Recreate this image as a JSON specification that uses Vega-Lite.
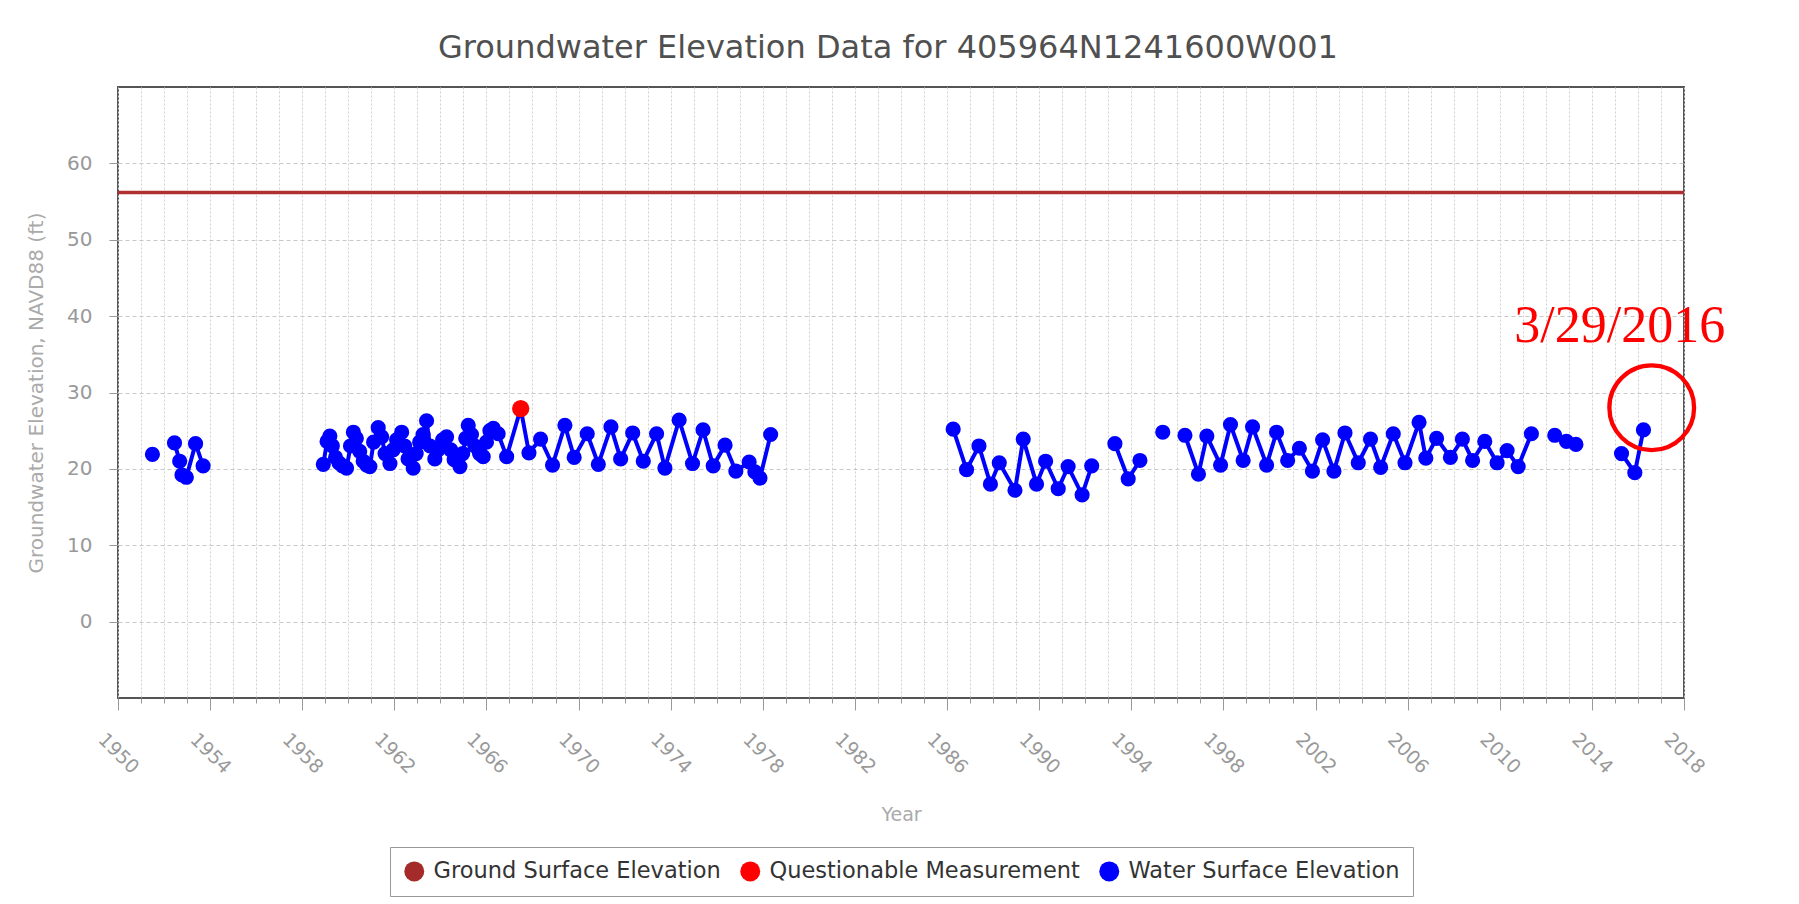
{
  "$schema": "https://vega.github.io/schema/vega-lite/v6.json",
  "autosize": {"type": "none"},
  "width": 1566,
  "height": 611,
  "padding": {"left": 118, "top": 87, "right": 115, "bottom": 206},
  "background": "white",
  "config": {
    "font": "DejaVu Sans",
    "view": {"stroke": "#555555", "strokeWidth": 2, "fill": "white"}
  },
  "title": {
    "text": "Groundwater Elevation Data for 405964N1241600W001",
    "fontSize": 32,
    "fontWeight": "normal",
    "color": "#505050",
    "anchor": "middle",
    "offset": 22,
    "dx": -13
  },
  "datasets": {
    "obs": [
      {"date": "1951-07-01", "elev": 21.9, "seg": 1, "status": "Water Surface Elevation"},
      {"date": "1952-06-15", "elev": 23.4, "seg": 2, "status": "Water Surface Elevation"},
      {"date": "1952-09-05", "elev": 21.0, "seg": 2, "status": "Water Surface Elevation"},
      {"date": "1952-10-12", "elev": 19.2, "seg": 2, "status": "Water Surface Elevation"},
      {"date": "1952-12-20", "elev": 18.9, "seg": 2, "status": "Water Surface Elevation"},
      {"date": "1953-05-15", "elev": 23.3, "seg": 2, "status": "Water Surface Elevation"},
      {"date": "1953-09-12", "elev": 20.4, "seg": 2, "status": "Water Surface Elevation"},
      {"date": "1958-12-01", "elev": 20.6, "seg": 3, "status": "Water Surface Elevation"},
      {"date": "1959-01-30", "elev": 23.6, "seg": 3, "status": "Water Surface Elevation"},
      {"date": "1959-03-15", "elev": 24.3, "seg": 3, "status": "Water Surface Elevation"},
      {"date": "1959-04-23", "elev": 23.0, "seg": 3, "status": "Water Surface Elevation"},
      {"date": "1959-06-13", "elev": 21.5, "seg": 3, "status": "Water Surface Elevation"},
      {"date": "1959-08-07", "elev": 20.8, "seg": 3, "status": "Water Surface Elevation"},
      {"date": "1959-10-01", "elev": 20.4, "seg": 3, "status": "Water Surface Elevation"},
      {"date": "1959-12-05", "elev": 20.1, "seg": 3, "status": "Water Surface Elevation"},
      {"date": "1960-02-06", "elev": 23.0, "seg": 3, "status": "Water Surface Elevation"},
      {"date": "1960-03-22", "elev": 24.8, "seg": 3, "status": "Water Surface Elevation"},
      {"date": "1960-05-08", "elev": 24.0, "seg": 3, "status": "Water Surface Elevation"},
      {"date": "1960-07-01", "elev": 22.3, "seg": 3, "status": "Water Surface Elevation"},
      {"date": "1960-08-25", "elev": 21.0, "seg": 3, "status": "Water Surface Elevation"},
      {"date": "1960-10-20", "elev": 20.5, "seg": 3, "status": "Water Surface Elevation"},
      {"date": "1960-12-09", "elev": 20.3, "seg": 3, "status": "Water Surface Elevation"},
      {"date": "1961-02-06", "elev": 23.5, "seg": 3, "status": "Water Surface Elevation"},
      {"date": "1961-04-20", "elev": 25.4, "seg": 3, "status": "Water Surface Elevation"},
      {"date": "1961-06-13", "elev": 24.2, "seg": 3, "status": "Water Surface Elevation"},
      {"date": "1961-08-07", "elev": 22.0, "seg": 3, "status": "Water Surface Elevation"},
      {"date": "1961-10-23", "elev": 20.7, "seg": 3, "status": "Water Surface Elevation"},
      {"date": "1961-12-13", "elev": 22.5, "seg": 3, "status": "Water Surface Elevation"},
      {"date": "1962-02-06", "elev": 23.8, "seg": 3, "status": "Water Surface Elevation"},
      {"date": "1962-04-27", "elev": 24.8, "seg": 3, "status": "Water Surface Elevation"},
      {"date": "1962-06-13", "elev": 23.0, "seg": 3, "status": "Water Surface Elevation"},
      {"date": "1962-08-07", "elev": 21.3, "seg": 3, "status": "Water Surface Elevation"},
      {"date": "1962-10-27", "elev": 20.1, "seg": 3, "status": "Water Surface Elevation"},
      {"date": "1962-12-13", "elev": 22.0, "seg": 3, "status": "Water Surface Elevation"},
      {"date": "1963-02-06", "elev": 23.5, "seg": 3, "status": "Water Surface Elevation"},
      {"date": "1963-04-01", "elev": 24.5, "seg": 3, "status": "Water Surface Elevation"},
      {"date": "1963-05-27", "elev": 26.3, "seg": 3, "status": "Water Surface Elevation"},
      {"date": "1963-07-20", "elev": 23.0, "seg": 3, "status": "Water Surface Elevation"},
      {"date": "1963-10-05", "elev": 21.3, "seg": 3, "status": "Water Surface Elevation"},
      {"date": "1963-11-24", "elev": 22.5, "seg": 3, "status": "Water Surface Elevation"},
      {"date": "1964-02-06", "elev": 23.8, "seg": 3, "status": "Water Surface Elevation"},
      {"date": "1964-04-08", "elev": 24.2, "seg": 3, "status": "Water Surface Elevation"},
      {"date": "1964-06-13", "elev": 22.5, "seg": 3, "status": "Water Surface Elevation"},
      {"date": "1964-08-07", "elev": 21.2, "seg": 3, "status": "Water Surface Elevation"},
      {"date": "1964-11-06", "elev": 20.3, "seg": 3, "status": "Water Surface Elevation"},
      {"date": "1964-12-20", "elev": 22.0, "seg": 3, "status": "Water Surface Elevation"},
      {"date": "1965-02-06", "elev": 24.0, "seg": 3, "status": "Water Surface Elevation"},
      {"date": "1965-03-18", "elev": 25.7, "seg": 3, "status": "Water Surface Elevation"},
      {"date": "1965-05-08", "elev": 24.5, "seg": 3, "status": "Water Surface Elevation"},
      {"date": "1965-07-01", "elev": 23.0, "seg": 3, "status": "Water Surface Elevation"},
      {"date": "1965-09-13", "elev": 22.0, "seg": 3, "status": "Water Surface Elevation"},
      {"date": "1965-11-10", "elev": 21.6, "seg": 3, "status": "Water Surface Elevation"},
      {"date": "1966-01-01", "elev": 23.5, "seg": 3, "status": "Water Surface Elevation"},
      {"date": "1966-02-25", "elev": 25.0, "seg": 3, "status": "Water Surface Elevation"},
      {"date": "1966-04-20", "elev": 25.3, "seg": 3, "status": "Water Surface Elevation"},
      {"date": "1966-07-05", "elev": 24.6, "seg": 3, "status": "Water Surface Elevation"},
      {"date": "1966-11-17", "elev": 21.6, "seg": 3, "status": "Water Surface Elevation"},
      {"date": "1967-06-28", "elev": 27.9, "seg": 3, "status": "Questionable Measurement"},
      {"date": "1967-11-06", "elev": 22.1, "seg": 3, "status": "Water Surface Elevation"},
      {"date": "1968-05-08", "elev": 23.9, "seg": 3, "status": "Water Surface Elevation"},
      {"date": "1968-11-14", "elev": 20.5, "seg": 3, "status": "Water Surface Elevation"},
      {"date": "1969-05-29", "elev": 25.7, "seg": 3, "status": "Water Surface Elevation"},
      {"date": "1969-10-23", "elev": 21.5, "seg": 3, "status": "Water Surface Elevation"},
      {"date": "1970-05-18", "elev": 24.6, "seg": 3, "status": "Water Surface Elevation"},
      {"date": "1970-11-10", "elev": 20.6, "seg": 3, "status": "Water Surface Elevation"},
      {"date": "1971-05-29", "elev": 25.5, "seg": 3, "status": "Water Surface Elevation"},
      {"date": "1971-10-30", "elev": 21.3, "seg": 3, "status": "Water Surface Elevation"},
      {"date": "1972-05-08", "elev": 24.7, "seg": 3, "status": "Water Surface Elevation"},
      {"date": "1972-10-23", "elev": 21.0, "seg": 3, "status": "Water Surface Elevation"},
      {"date": "1973-05-22", "elev": 24.6, "seg": 3, "status": "Water Surface Elevation"},
      {"date": "1973-10-01", "elev": 20.1, "seg": 3, "status": "Water Surface Elevation"},
      {"date": "1974-05-15", "elev": 26.4, "seg": 3, "status": "Water Surface Elevation"},
      {"date": "1974-12-13", "elev": 20.7, "seg": 3, "status": "Water Surface Elevation"},
      {"date": "1975-05-29", "elev": 25.1, "seg": 3, "status": "Water Surface Elevation"},
      {"date": "1975-11-06", "elev": 20.4, "seg": 3, "status": "Water Surface Elevation"},
      {"date": "1976-05-12", "elev": 23.1, "seg": 3, "status": "Water Surface Elevation"},
      {"date": "1976-10-30", "elev": 19.7, "seg": 3, "status": "Water Surface Elevation"},
      {"date": "1977-05-29", "elev": 20.9, "seg": 3, "status": "Water Surface Elevation"},
      {"date": "1977-08-28", "elev": 19.6, "seg": 3, "status": "Water Surface Elevation"},
      {"date": "1977-11-17", "elev": 18.8, "seg": 3, "status": "Water Surface Elevation"},
      {"date": "1978-05-05", "elev": 24.5, "seg": 3, "status": "Water Surface Elevation"},
      {"date": "1986-04-08", "elev": 25.2, "seg": 4, "status": "Water Surface Elevation"},
      {"date": "1986-11-06", "elev": 19.9, "seg": 4, "status": "Water Surface Elevation"},
      {"date": "1987-05-22", "elev": 23.0, "seg": 4, "status": "Water Surface Elevation"},
      {"date": "1987-11-20", "elev": 18.0, "seg": 4, "status": "Water Surface Elevation"},
      {"date": "1988-04-08", "elev": 20.8, "seg": 4, "status": "Water Surface Elevation"},
      {"date": "1988-12-13", "elev": 17.2, "seg": 4, "status": "Water Surface Elevation"},
      {"date": "1989-04-23", "elev": 23.9, "seg": 4, "status": "Water Surface Elevation"},
      {"date": "1989-11-20", "elev": 18.0, "seg": 4, "status": "Water Surface Elevation"},
      {"date": "1990-04-13", "elev": 21.0, "seg": 4, "status": "Water Surface Elevation"},
      {"date": "1990-10-30", "elev": 17.4, "seg": 4, "status": "Water Surface Elevation"},
      {"date": "1991-04-05", "elev": 20.3, "seg": 4, "status": "Water Surface Elevation"},
      {"date": "1991-11-13", "elev": 16.6, "seg": 4, "status": "Water Surface Elevation"},
      {"date": "1992-04-13", "elev": 20.4, "seg": 4, "status": "Water Surface Elevation"},
      {"date": "1993-04-16", "elev": 23.3, "seg": 5, "status": "Water Surface Elevation"},
      {"date": "1993-11-13", "elev": 18.7, "seg": 5, "status": "Water Surface Elevation"},
      {"date": "1994-05-18", "elev": 21.1, "seg": 5, "status": "Water Surface Elevation"},
      {"date": "1995-05-15", "elev": 24.8, "seg": 6, "status": "Water Surface Elevation"},
      {"date": "1996-05-01", "elev": 24.4, "seg": 7, "status": "Water Surface Elevation"},
      {"date": "1996-12-01", "elev": 19.3, "seg": 7, "status": "Water Surface Elevation"},
      {"date": "1997-04-13", "elev": 24.3, "seg": 7, "status": "Water Surface Elevation"},
      {"date": "1997-11-17", "elev": 20.5, "seg": 7, "status": "Water Surface Elevation"},
      {"date": "1998-04-23", "elev": 25.8, "seg": 7, "status": "Water Surface Elevation"},
      {"date": "1998-11-10", "elev": 21.1, "seg": 7, "status": "Water Surface Elevation"},
      {"date": "1999-04-08", "elev": 25.5, "seg": 7, "status": "Water Surface Elevation"},
      {"date": "1999-11-17", "elev": 20.5, "seg": 7, "status": "Water Surface Elevation"},
      {"date": "2000-04-23", "elev": 24.8, "seg": 7, "status": "Water Surface Elevation"},
      {"date": "2000-10-16", "elev": 21.1, "seg": 7, "status": "Water Surface Elevation"},
      {"date": "2001-04-20", "elev": 22.7, "seg": 7, "status": "Water Surface Elevation"},
      {"date": "2001-11-13", "elev": 19.7, "seg": 7, "status": "Water Surface Elevation"},
      {"date": "2002-04-23", "elev": 23.8, "seg": 7, "status": "Water Surface Elevation"},
      {"date": "2002-10-20", "elev": 19.7, "seg": 7, "status": "Water Surface Elevation"},
      {"date": "2003-04-13", "elev": 24.7, "seg": 7, "status": "Water Surface Elevation"},
      {"date": "2003-11-10", "elev": 20.8, "seg": 7, "status": "Water Surface Elevation"},
      {"date": "2004-05-22", "elev": 23.9, "seg": 7, "status": "Water Surface Elevation"},
      {"date": "2004-10-30", "elev": 20.2, "seg": 7, "status": "Water Surface Elevation"},
      {"date": "2005-05-18", "elev": 24.6, "seg": 7, "status": "Water Surface Elevation"},
      {"date": "2005-11-20", "elev": 20.8, "seg": 7, "status": "Water Surface Elevation"},
      {"date": "2006-07-01", "elev": 26.1, "seg": 7, "status": "Water Surface Elevation"},
      {"date": "2006-10-16", "elev": 21.4, "seg": 7, "status": "Water Surface Elevation"},
      {"date": "2007-04-05", "elev": 24.0, "seg": 7, "status": "Water Surface Elevation"},
      {"date": "2007-11-10", "elev": 21.5, "seg": 7, "status": "Water Surface Elevation"},
      {"date": "2008-05-18", "elev": 23.9, "seg": 7, "status": "Water Surface Elevation"},
      {"date": "2008-10-27", "elev": 21.1, "seg": 7, "status": "Water Surface Elevation"},
      {"date": "2009-05-08", "elev": 23.6, "seg": 7, "status": "Water Surface Elevation"},
      {"date": "2009-11-20", "elev": 20.8, "seg": 7, "status": "Water Surface Elevation"},
      {"date": "2010-04-27", "elev": 22.4, "seg": 7, "status": "Water Surface Elevation"},
      {"date": "2010-10-20", "elev": 20.3, "seg": 7, "status": "Water Surface Elevation"},
      {"date": "2011-05-18", "elev": 24.6, "seg": 7, "status": "Water Surface Elevation"},
      {"date": "2012-05-22", "elev": 24.4, "seg": 8, "status": "Water Surface Elevation"},
      {"date": "2012-11-24", "elev": 23.6, "seg": 8, "status": "Water Surface Elevation"},
      {"date": "2013-04-23", "elev": 23.2, "seg": 8, "status": "Water Surface Elevation"},
      {"date": "2015-04-16", "elev": 22.0, "seg": 9, "status": "Water Surface Elevation"},
      {"date": "2015-11-13", "elev": 19.5, "seg": 9, "status": "Water Surface Elevation"},
      {"date": "2016-03-29", "elev": 25.1, "seg": 9, "status": "Water Surface Elevation"}
    ],
    "ground": [{"status": "Ground Surface Elevation", "elev": 56.2}],
    "note": [{"date": "2015-03-18", "elev": 36.65, "label": "3/29/2016"}],
    "ring": [{"date": "2016-08-07", "elev": 28.0}]
  },
  "layer": [
    {
      "data": {"name": "ground"},
      "mark": {"type": "rule", "color": "#b03030", "strokeWidth": 3.5},
      "encoding": {
        "y": {"field": "elev", "type": "quantitative", "scale": {"domain": [-10, 70]}}
      }
    },
    {
      "data": {"name": "obs"},
      "mark": {"type": "line", "color": "#0000ff", "strokeWidth": 4},
      "encoding": {
        "x": {"field": "date", "type": "temporal"},
        "y": {"field": "elev", "type": "quantitative"},
        "detail": {"field": "seg", "type": "nominal"},
        "order": {"field": "date", "type": "temporal"}
      }
    },
    {
      "data": {"name": "obs"},
      "mark": {"type": "point", "filled": true, "opacity": 1, "shape": "circle"},
      "encoding": {
        "size": {"condition": {"test": "datum.status === 'Questionable Measurement'", "value": 300}, "value": 230},
        "x": {
          "field": "date",
          "type": "temporal",
          "scale": {"domain": [{"year": 1950, "month": 1, "date": 1}, {"year": 2018, "month": 1, "date": 1}]},
          "axis": {
            "title": "Year",
            "titleFontSize": 19,
            "titleFontWeight": "normal",
            "titleColor": "#aaaaaa",
            "titlePadding": 28,
            "tickCount": {"interval": "year", "step": 1},
            "grid": true,
            "gridDash": [2, 2],
            "gridColor": "#d0d0d0",
            "gridWidth": 1,
            "domain": false,
            "tickColor": "#999999",
            "tickSize": {"condition": {"test": "year(datum.value) % 4 == 2", "value": 12}, "value": 5},
            "labelExpr": "year(datum.value) % 4 == 2 ? timeFormat(datum.value, '%Y') : ''",
            "labelAngle": 45,
            "labelAlign": "center",
            "labelBaseline": "middle",
            "labelPadding": 43,
            "labelFontSize": 19,
            "labelColor": "#999999",
            "labelOverlap": false,
            "labelFlush": false
          }
        },
        "y": {
          "field": "elev",
          "type": "quantitative",
          "scale": {"domain": [-10, 70]},
          "axis": {
            "title": "Groundwater Elevation, NAVD88 (ft)",
            "titleFontSize": 20,
            "titleFontWeight": "normal",
            "titleColor": "#aaaaaa",
            "titlePadding": 20,
            "values": [0, 10, 20, 30, 40, 50, 60],
            "grid": true,
            "gridDash": [4, 3],
            "gridColor": "#c8c8c8",
            "domain": false,
            "tickColor": "#999999",
            "tickSize": 9,
            "labelPadding": 17,
            "labelFontSize": 20,
            "labelColor": "#999999"
          }
        },
        "color": {
          "field": "status",
          "type": "nominal",
          "scale": {
            "domain": ["Ground Surface Elevation", "Questionable Measurement", "Water Surface Elevation"],
            "range": ["#a52a2a", "#ff0000", "#0000ff"]
          },
          "legend": {
            "title": null,
            "orient": "none",
            "legendX": 272,
            "legendY": 760,
            "direction": "horizontal",
            "strokeColor": "#999999",
            "fillColor": "white",
            "padding": 13,
            "symbolType": "circle",
            "symbolSize": 400,
            "symbolStrokeWidth": 0,
            "labelFontSize": 22.5,
            "labelColor": "#333333",
            "labelOffset": 8,
            "columnPadding": 18,
            "labelLimit": 0
          }
        }
      }
    },
    {
      "data": {"name": "note"},
      "mark": {"type": "text", "font": "Liberation Serif", "fontSize": 52, "color": "#ff0000", "align": "center", "baseline": "alphabetic"},
      "encoding": {
        "x": {"field": "date", "type": "temporal"},
        "y": {"field": "elev", "type": "quantitative"},
        "text": {"field": "label"}
      }
    },
    {
      "data": {"name": "ring"},
      "mark": {"type": "point", "shape": "circle", "filled": false, "stroke": "#ff0000", "strokeWidth": 4.3, "size": 7180, "opacity": 1},
      "encoding": {
        "x": {"field": "date", "type": "temporal"},
        "y": {"field": "elev", "type": "quantitative"}
      }
    }
  ]
}
